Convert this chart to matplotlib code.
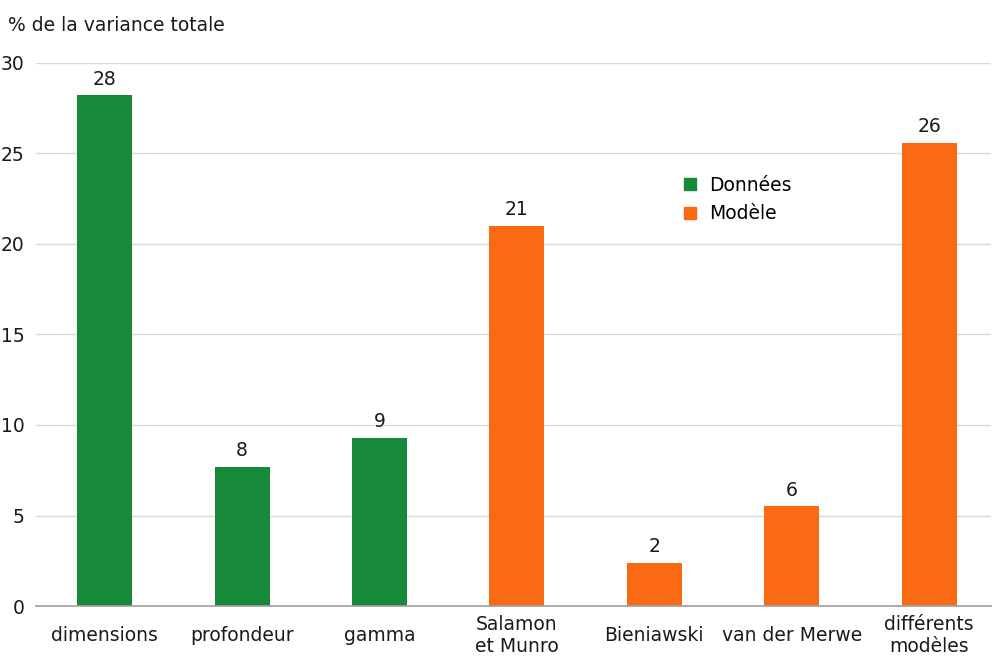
import numpy as np
import matplotlib.pyplot as plt
from matplotlib.lines import Line2D

categories = ["dimensions", "profondeur", "gamma", "Salamon\net Munro",
              "Bieniawski", "van der Merwe", "différents\nmodèles"]
values = [28.2, 7.7, 9.3, 21.0, 2.4, 5.5, 25.6]
groups = ["Données", "Données", "Données", "Modèle", "Modèle", "Modèle", "Modèle"]
yticks = [0, 5, 10, 15, 20, 25, 30]

colors = {"Données": "#178a3a", "Modèle": "#f96a12"}

plt.rcParams['font.family'] = ['DejaVu Sans']

fig = plt.figure(figsize=(9.97, 6.64), dpi=100)
ax = fig.add_axes([0.036, 0.0873, 0.958, 0.818])

x = np.arange(len(categories))
bar_colors = [colors[g] for g in groups]
ax.bar(x, values, width=0.4, color=bar_colors, zorder=3)

for xi, v in zip(x, values):
    ax.text(xi, v + 0.35, f"{v:.0f}", ha='center', va='bottom', fontsize=13.5, color='#1a1a1a')

ax.set_xlim(-0.5, 6.45)
ax.set_ylim(0, 30)
ax.set_yticks(yticks)
ax.set_yticklabels([str(t) for t in yticks], fontsize=13.5, color='#1a1a1a')
ax.set_xticks(x)
ax.set_xticklabels(categories, fontsize=13.5, color='#1a1a1a', va='center', linespacing=1.2)
ax.tick_params(axis='both', length=0)
ax.tick_params(axis='x', pad=21)
ax.tick_params(axis='y', pad=8)

ax.grid(axis='y', color='#d9d9d9', linewidth=1, zorder=0)
for s in ['top', 'right', 'left']:
    ax.spines[s].set_visible(False)
ax.spines['bottom'].set_color('#a0a0a0')
ax.spines['bottom'].set_linewidth(1.2)
ax.spines['bottom'].set_zorder(4)

handles = [Line2D([], [], marker='s', linestyle='none', markersize=8, color=colors[g])
           for g in ["Données", "Modèle"]]
ax.legend(handles, ["Données", "Modèle"], loc='upper left', bbox_to_anchor=(0.657, 0.806),
          frameon=False, fontsize=13.5, handletextpad=0.05, labelspacing=0.5,
          borderaxespad=0)

fig.text(0.008, 0.962, "% de la variance totale", fontsize=13.5, color='#1a1a1a',
         ha='left', va='center')

fig.savefig("out.png", dpi=100)
